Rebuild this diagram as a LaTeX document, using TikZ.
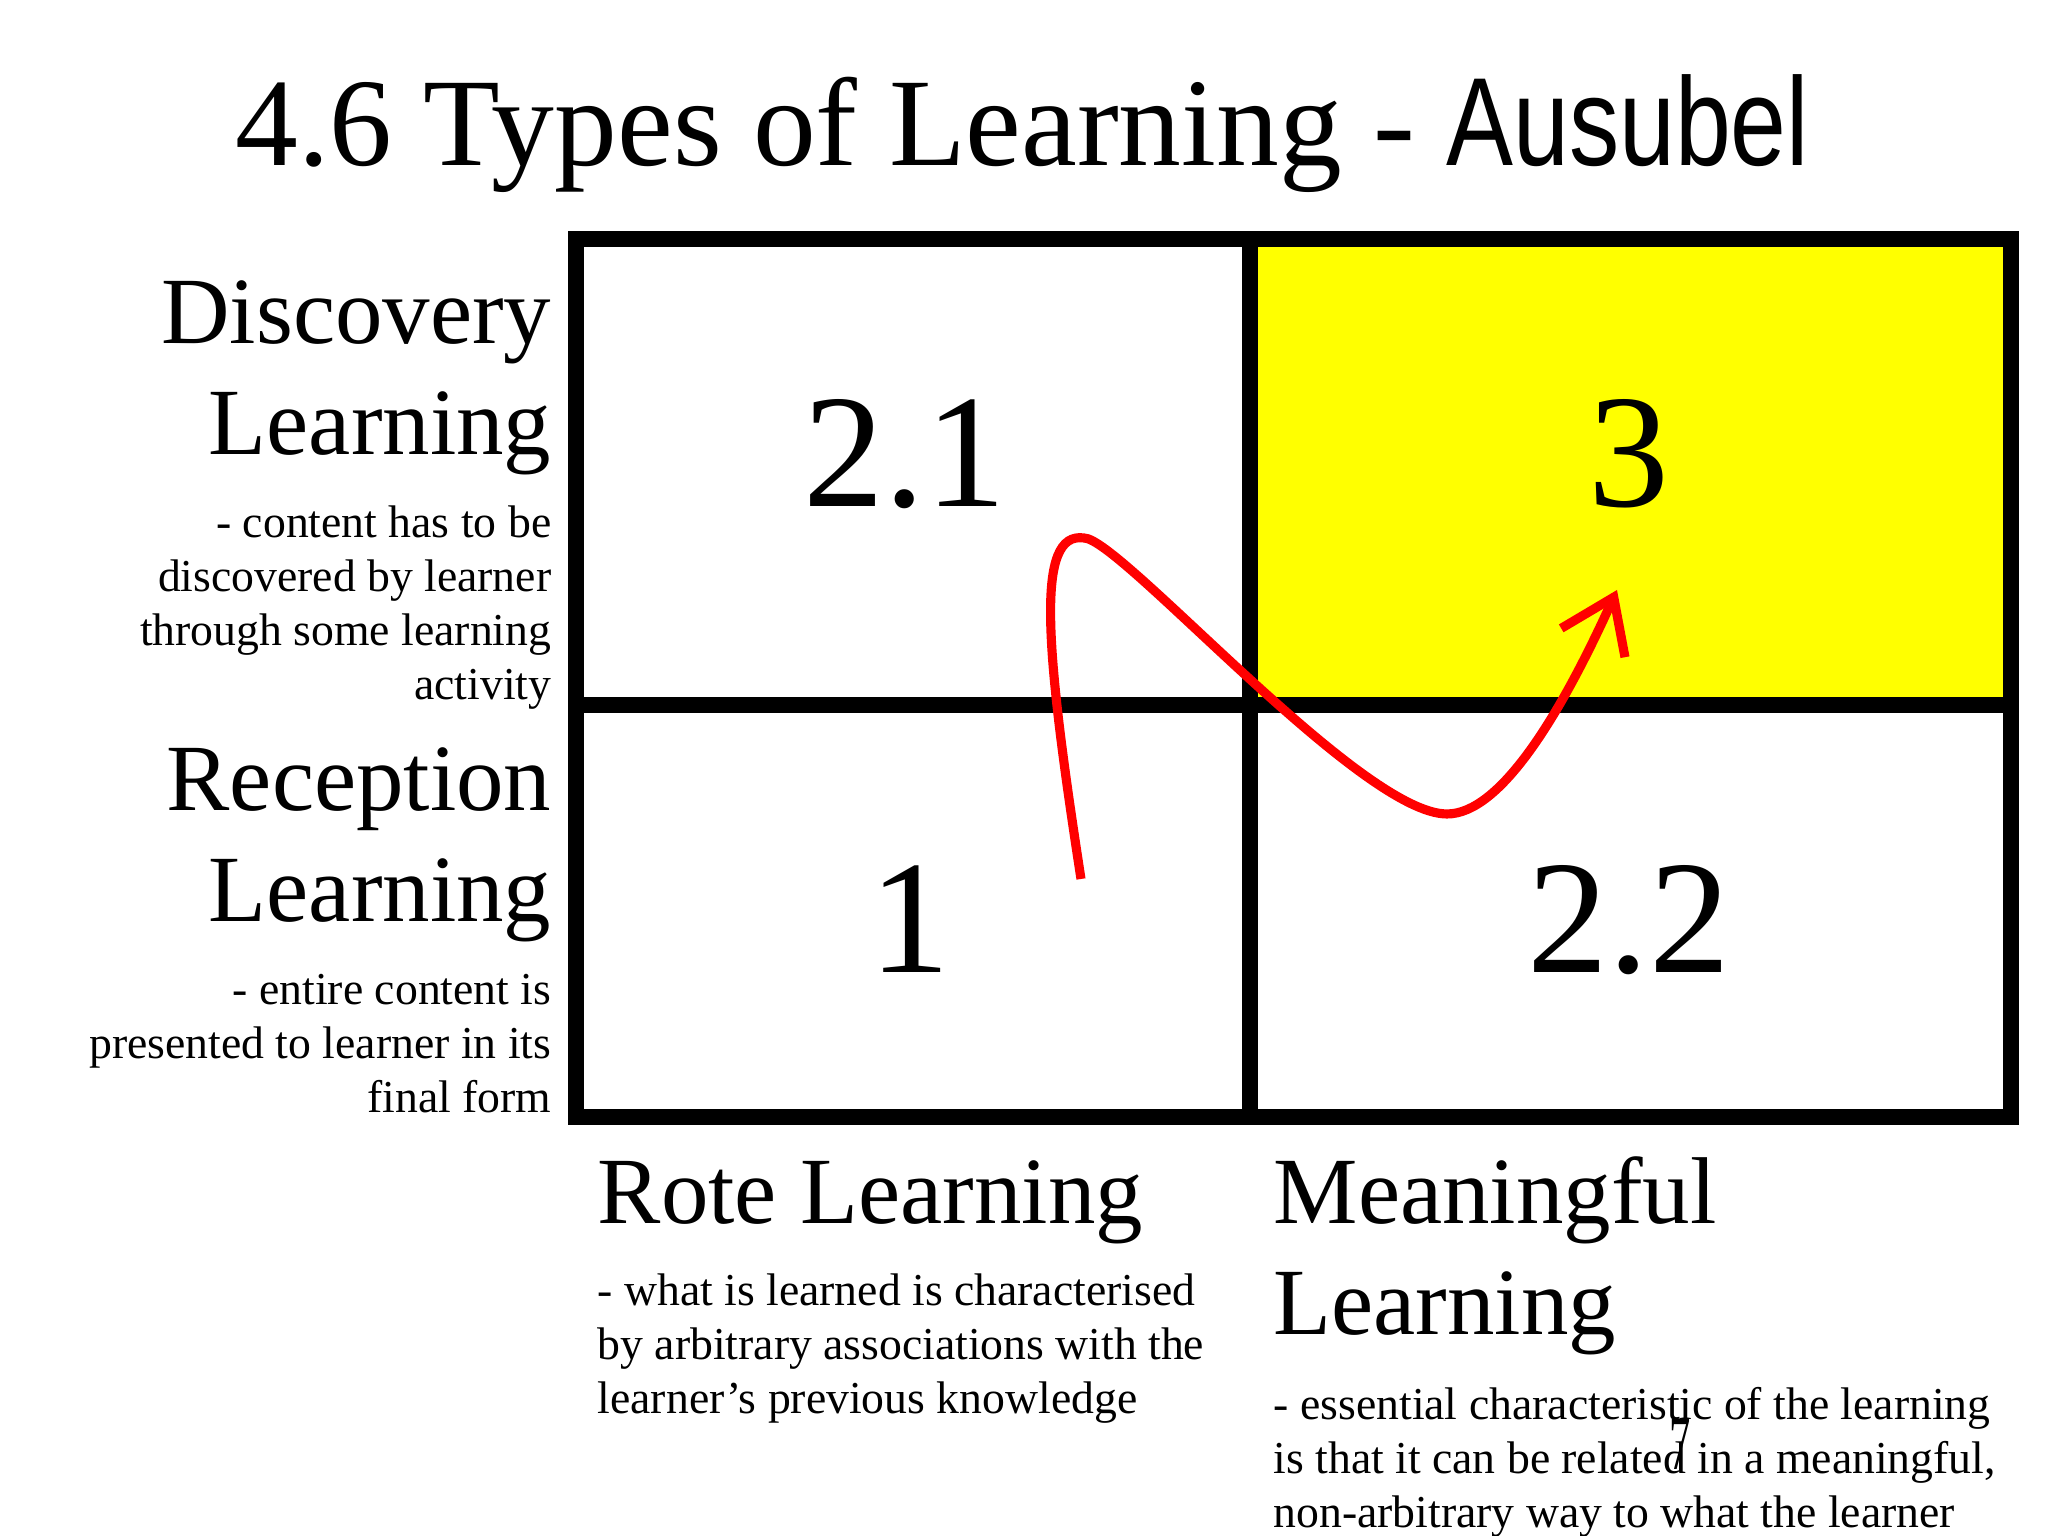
\documentclass[tikz,border=0pt]{standalone}
\usepackage{fontspec}
\setmainfont{Liberation Serif}
\newfontfamily\narrowsf{Liberation Sans}
\usetikzlibrary{arrows.meta}
\definecolor{cellyellow}{RGB}{255,255,0}
\tikzset{
  grid/.style={line width=4.5pt},
  bigword/.style={inner sep=0pt,font=\fontsize{27}{31.6}\selectfont},
  note/.style={inner sep=0pt,font=\fontsize{13}{15.4}\selectfont},
  cellnum/.style={inner sep=0pt,anchor=base,font=\fontsize{46}{50}\selectfont},
}
\begin{document}
\begin{tikzpicture}
\useasboundingbox (0,0) rectangle (20.48,15.36);

% title
\node[inner sep=0pt,anchor=base west] (title) at (2.35,13.70)
  {\fontsize{35.7}{40}\selectfont 4.6 Types of Learning - \narrowsf\scalebox{0.80}[1]{Ausubel}};

% the four cells
\fill[cellyellow] (12.50,8.31) rectangle (20.11,12.97);
\draw[grid] (5.76,4.19) rectangle (20.11,12.97);
\draw[grid] (12.50,4.19) -- (12.50,12.97);
\draw[grid] (5.76,8.31) -- (20.11,8.31);

\node[cellnum] (c21) at (9.05,10.29) {2.1};
\node[cellnum] (c3) at (16.29,10.29) {3};
\node[cellnum] (c1) at (9.10,5.63) {1};
\node[cellnum] (c22) at (16.29,5.63) {2.2};

% row labels (base = last line)
\node[bigword,anchor=base east,align=right] (disc) at (5.52,10.81) {Discovery\\Learning};
\node[note,anchor=base east,align=right] (discnote) at (5.52,8.36)
  {- content has to be\\discovered by learner\\through some learning\\activity};
\node[bigword,anchor=base east,align=right] (recp) at (5.52,6.14) {Reception\\Learning};
\node[note,anchor=base east,align=right] (recpnote) at (5.52,4.23)
  {- entire content is\\presented to learner in its\\final form};

% column labels
\node[bigword,anchor=base west,align=left] (rote) at (5.97,3.12) {Rote Learning};
\node[note,anchor=base west,align=left] (rotenote) at (5.97,1.22)
  {- what is learned is characterised\\by arbitrary associations with the\\learner’s previous knowledge};
\node[bigword,anchor=base west,align=left] (mean) at (12.73,2.01) {Meaningful\\Learning};
\node[note,anchor=base west,align=left] (meannote) at (12.73,0.08)
  {- essential characteristic of the learning\\is that it can be related in a meaningful,\\non-arbitrary way to what the learner};
\node[inner sep=0pt,anchor=base] (pageno) at (16.80,0.66) {\fontsize{22}{24}\selectfont\scalebox{0.55}[1]{7}};

% the path through the cells
\draw[red,line width=2.6pt,-{Straight Barb[length=5mm,width=7mm]}]
  (10.81,6.57) .. controls (10.45,8.9) and (10.35,10.05) .. (10.84,9.98)
  .. controls (11.2,9.98) and (13.6,7.22) .. (14.47,7.22)
  .. controls (15.0,7.22) and (15.6,8.2) .. (16.17,9.46);
\end{tikzpicture}
\end{document}
